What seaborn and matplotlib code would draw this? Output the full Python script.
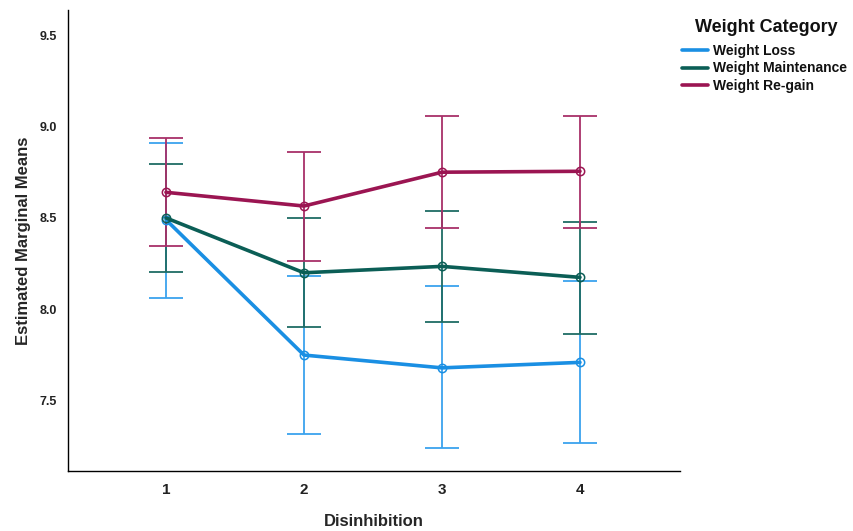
import matplotlib
matplotlib.use("Agg")
import matplotlib.pyplot as plt
import seaborn as sns
import pandas as pd

# Estimated marginal means with 95% CI bounds per weight category
levels = [1, 2, 3, 4]
categories = ["Weight Loss", "Weight Maintenance", "Weight Re-gain"]

loss_mean = [8.49, 7.75, 7.68, 7.71]
loss_low = [8.06, 7.32, 7.24, 7.27]
loss_high = [8.91, 8.185, 8.125, 8.155]

maint_mean = [8.50, 8.20, 8.235, 8.175]
maint_low = [8.205, 7.905, 7.93, 7.865]
maint_high = [8.795, 8.50, 8.54, 8.48]

regain_mean = [8.64, 8.565, 8.75, 8.755]
regain_low = [8.345, 8.265, 8.445, 8.445]
regain_high = [8.935, 8.86, 9.055, 9.06]

line_colors = ["#1a8fe3", "#0b5e56", "#9b1552"]
bar_colors = ["#3aa3ee", "#1f6c65", "#a83069"]

means = [loss_mean, maint_mean, regain_mean]
lows = [loss_low, maint_low, regain_low]
highs = [loss_high, maint_high, regain_high]

rows = []
for cat, m in zip(categories, means):
    for lv, v in zip(levels, m):
        rows.append({"Disinhibition": lv, "Mean": v, "Weight Category": cat})
df = pd.DataFrame(rows)

sns.set_theme(style="white")
plt.rcParams["font.family"] = ["Liberation Sans", "DejaVu Sans"]
plt.rcParams["font.weight"] = "bold"

fig = plt.figure(figsize=(8.54, 5.31), dpi=100)
ax = fig.add_axes([68 / 854, 1 - 471 / 531, 612 / 854, 461 / 531])

# Confidence-interval bars with caps
for i, cat in enumerate(categories):
    yerr = [[m - l for m, l in zip(means[i], lows[i])],
            [h - m for m, h in zip(means[i], highs[i])]]
    eb = ax.errorbar(levels, means[i], yerr=yerr, fmt="none", ecolor=bar_colors[i],
                     elinewidth=1.3, capsize=12, capthick=1.3, zorder=2)
    for cap in eb[1]:
        cap.set_color(bar_colors[i])
        cap.set_markeredgecolor(bar_colors[i])
    for col in eb[2]:
        col.set_color(bar_colors[i])

sns.lineplot(data=df, x="Disinhibition", y="Mean", hue="Weight Category",
             hue_order=categories, palette=line_colors, linewidth=2.6,
             marker="o", markersize=6, markerfacecolor="none",
             markeredgewidth=1.1, ax=ax, zorder=3, legend=True)
for ln in ax.lines:
    if ln.get_marker() == "o":
        ln.set_markeredgecolor(ln.get_color())

ax.set_xlim(0.29, 4.725)
ax.set_ylim(7.116, 9.637)
ax.set_xticks(levels)
ax.set_xticklabels([str(v) for v in levels], fontsize=11, fontweight="bold")
ax.set_yticks([7.5, 8.0, 8.5, 9.0, 9.5])
ax.set_yticklabels(["7.5", "8.0", "8.5", "9.0", "9.5"], fontsize=9, fontweight="bold")
ax.tick_params(axis="both", length=0, colors="#222222")
ax.tick_params(axis="y", pad=8)
ax.tick_params(axis="x", pad=9)
ax.set_xlabel("Disinhibition", fontsize=12, fontweight="bold", labelpad=12)
ax.set_ylabel("Estimated Marginal Means", fontsize=12, fontweight="bold", labelpad=6)

for side in ["top", "right"]:
    ax.spines[side].set_visible(False)
for side in ["left", "bottom"]:
    ax.spines[side].set_color("#000000")
    ax.spines[side].set_linewidth(1.0)

handles, labels = ax.get_legend_handles_labels()
for h in handles:
    h.set_marker("")
fig.text(766 / 854, 1 - 28 / 531, "Weight Category", ha="center", va="center",
         fontsize=13, fontweight="bold", color="#111111")
leg = ax.legend(handles, labels, loc="upper left",
                bbox_to_anchor=(682 / 854, 1 - 44 / 531), bbox_transform=fig.transFigure,
                frameon=False, fontsize=10, handlelength=1.9, handletextpad=0.35,
                labelspacing=0.25, borderaxespad=0, borderpad=0)
for t in leg.get_texts():
    t.set_fontweight("bold")
    t.set_color("#111111")

fig.savefig("out.png", dpi=100)
